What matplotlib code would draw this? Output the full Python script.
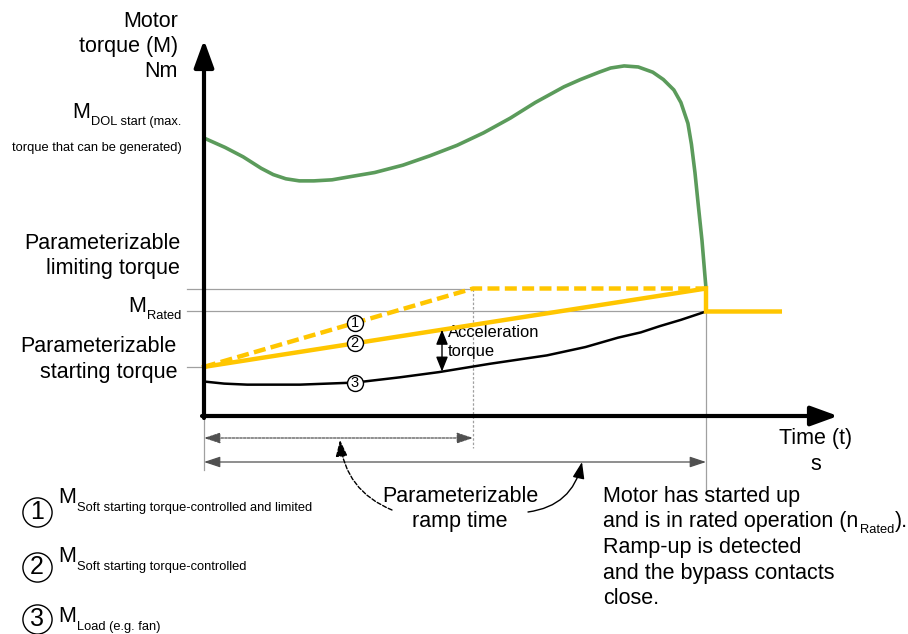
import numpy as np
import matplotlib.pyplot as plt

plt.rcParams['font.family'] = ['Liberation Sans', 'DejaVu Sans']

# time is normalised to the end of the ramp (bypass closes at t = 1),
# torque is in % of rated torque
T_LIMIT = 0.536      # limited ramp reaches the limiting torque
T_AFTER = 1.147      # end of the rated-operation line
M_START = 47         # parameterizable starting torque
M_LIMIT = 122        # parameterizable limiting torque
M_RATED = 100

# direct-on-line torque curve (green)
dol_t = [0.0, 0.042, 0.078, 0.114, 0.138, 0.163, 0.19, 0.219, 0.255,
         0.291, 0.34, 0.396, 0.45, 0.504, 0.557, 0.610, 0.66, 0.717,
         0.75, 0.787, 0.81, 0.837, 0.865, 0.894, 0.915, 0.936, 0.95,
         0.964, 0.971, 0.978, 0.985, 0.992, 0.996, 1.0]
dol_m = [266, 257, 248, 237, 231, 227, 225, 225, 226,
         229, 233, 240, 249, 259, 271, 285, 300, 315,
         322, 329, 333, 335, 334, 329, 322, 312, 300,
         280, 260, 233, 200, 168, 145, 122]

# load torque (fan)
load_t = [0.0, 0.04, 0.086, 0.191, 0.301, 0.39, 0.468, 0.570, 0.683,
          0.76, 0.825, 0.87, 0.908, 0.95, 1.0]
load_m = [33, 31, 30, 30, 32, 37, 42, 50, 58, 66, 75, 80, 86, 92, 100]

# soft starter, torque-controlled and limited (dashed)
lim_t = [0.0, T_LIMIT, 1.0]
lim_m = [M_START, M_LIMIT, M_LIMIT]

# soft starter, torque-controlled, then bypass
ramp_t = [0.0, 1.0, 1.0, T_AFTER]
ramp_m = [M_START, M_LIMIT, M_RATED, M_RATED]

T_MARK = 0.30        # where the circled numbers sit on the curves

GREEN = '#5b9b5b'
YELLOW = '#ffc600'
GREY = '#a0a0a0'
DIM = '#505050'

BIG = 15.5
SMALL = 9.3

# pixel layout of the original drawing
X0, XS = 204, 502
Y0, YS = 416, 1.045
W, H = 908, 634


def P(x, y):
    return (x - X0) / XS, (Y0 - y) / YS


fig = plt.figure(figsize=(W / 100, H / 100), dpi=100)
ax = fig.add_axes([0, 0, 1, 1])
ax.set_xlim(P(0, 0)[0], P(W, 0)[0])
ax.set_ylim(P(0, H)[1], P(0, 0)[1])
ax.axis('off')

# helper lines
x_left = P(187, 0)[0]
ax.plot([x_left, T_LIMIT], [M_LIMIT, M_LIMIT], color=GREY, lw=0.9, zorder=1)
ax.plot([x_left, 1.0], [M_RATED, M_RATED], color=GREY, lw=0.9, zorder=1)
ax.plot([x_left, 0], [M_START, M_START], color=GREY, lw=0.9, zorder=1)
ax.plot([T_LIMIT, T_LIMIT], [M_LIMIT, P(0, 448)[1]], color=GREY, lw=0.9,
        ls=(0, (2, 1.5)), zorder=1)
ax.plot([1.0, 1.0], [M_RATED, P(0, 490)[1]], color=GREY, lw=0.9, zorder=1)
ax.plot([0, 0], [P(0, 418)[1], P(0, 470)[1]], color=GREY, lw=0.9, zorder=1)

# curves
ax.plot(dol_t, dol_m, color=GREEN, lw=2.6, solid_capstyle='round',
        solid_joinstyle='round', zorder=3)
ax.plot(load_t, load_m, color='black', lw=1.8, solid_joinstyle='round', zorder=3)
ax.plot(lim_t, lim_m, color=YELLOW, lw=3.2, ls=(0, (2.7, 1.2)), zorder=4)
ax.plot(ramp_t, ramp_m, color=YELLOW, lw=3.2, solid_joinstyle='miter', zorder=4)

# axes with arrows
ax.annotate('', xy=(0, P(0, 40)[1]), xytext=(0, P(0, 418)[1]),
            arrowprops=dict(arrowstyle='-|>,head_length=0.55,head_width=0.2',
                            lw=3, color='black', mutation_scale=30,
                            shrinkA=0, shrinkB=0), zorder=5)
ax.annotate('', xy=(P(838, 0)[0], 0), xytext=(P(202, 0)[0], 0),
            arrowprops=dict(arrowstyle='-|>,head_length=0.55,head_width=0.2',
                            lw=3, color='black', mutation_scale=30,
                            shrinkA=0, shrinkB=0), zorder=5)

# dimension arrows for the ramp time
dim_style = '<|-|>,head_length=0.45,head_width=0.15'
ax.annotate('', xy=(T_LIMIT, P(0, 438)[1]), xytext=(0, P(0, 438)[1]),
            arrowprops=dict(arrowstyle=dim_style, lw=0.9, color=DIM,
                            ls=(0, (2, 1)), mutation_scale=22,
                            shrinkA=0, shrinkB=0))
ax.annotate('', xy=(1.0, P(0, 462)[1]), xytext=(0, P(0, 462)[1]),
            arrowprops=dict(arrowstyle=dim_style, lw=0.9, color=DIM,
                            mutation_scale=22, shrinkA=0, shrinkB=0))

# curved pointers from the ramp time label
ax.annotate('', xy=P(340, 440), xytext=P(392, 510),
            arrowprops=dict(arrowstyle='-|>,head_length=0.5,head_width=0.18',
                            connectionstyle='arc3,rad=-0.3', lw=1.0,
                            ls=(0, (3, 1.5)), color='black', mutation_scale=20,
                            shrinkA=0, shrinkB=0))
ax.annotate('', xy=P(582, 462), xytext=P(528, 512),
            arrowprops=dict(arrowstyle='-|>,head_length=0.5,head_width=0.18',
                            connectionstyle='arc3,rad=0.35', lw=1.0,
                            color='black', mutation_scale=20,
                            shrinkA=0, shrinkB=0))

# acceleration torque arrow
t_acc = P(442, 0)[0]
ax.annotate('', xy=(t_acc, np.interp(t_acc, load_t, load_m)),
            xytext=(t_acc, np.interp(t_acc, [0, 1], [M_START, M_LIMIT])),
            arrowprops=dict(arrowstyle='<|-|>,head_length=0.5,head_width=0.2',
                            lw=1.0, color='black', mutation_scale=18,
                            shrinkA=0, shrinkB=0), zorder=5)
for s, yy in [('Acceleration', 333), ('torque', 352)]:
    ax.text(*P(448, yy), s, fontsize=11.9, ha='left', va='center')


# circled numbers
def circled(x, y, num, size, ms):
    ax.plot(x, y, 'o', ms=ms, mfc='white', mec='black', mew=1.0, zorder=6)
    ax.text(x, y, num, fontsize=size, ha='center', va='center', zorder=7)


circled(T_MARK, np.interp(T_MARK, lim_t, lim_m), '1', 10.5, 11.5)
circled(T_MARK, np.interp(T_MARK, ramp_t[:2], ramp_m[:2]), '2', 10.5, 11.5)
circled(T_MARK, np.interp(T_MARK, load_t, load_m), '3', 10.5, 11.5)


def lines(x, ys, texts, ha, size=BIG):
    for s, yy in zip(texts, ys):
        ax.text(*P(x, yy), s, fontsize=size, ha=ha, va='center')


def with_sub(x, y, main, sub, size=BIG, subsize=SMALL, dy=-6.5, tail=None):
    m = ax.text(*P(x, y), main, fontsize=size, ha='left', va='center')
    s = ax.annotate(sub, xy=(1, 0.5), xycoords=m, xytext=(1, dy),
                    textcoords='offset points', fontsize=subsize,
                    ha='left', va='center')
    if tail:
        ax.annotate(tail, xy=(1, 0.5), xycoords=(s, m), xytext=(0.5, 0),
                    textcoords='offset points', fontsize=size,
                    ha='left', va='center')


# y-axis labels
lines(178, [22, 47, 72], ['Motor', 'torque (M)', 'Nm'], 'right')
with_sub(72, 113, 'M', 'DOL start (max.')
ax.text(*P(182, 148), 'torque that can be generated)', fontsize=SMALL,
        ha='right', va='center')
lines(180, [244, 269], ['Parameterizable', 'limiting torque'], 'right')
with_sub(128, 307, 'M', 'Rated')
lines(177, [347, 373], ['Parameterizable', 'starting torque'], 'right')

# x-axis label
lines(816, [439, 465], ['Time (t)', 's'], 'center')

# ramp time and bypass notes
lines(460, [497, 522], ['Parameterizable', 'ramp time'], 'center')
lines(603, [497], ['Motor has started up'], 'left')
with_sub(603, 522, 'and is in rated operation (n', 'Rated', dy=-5.5, tail=').')
lines(603, [548, 574, 599], ['Ramp-up is detected', 'and the bypass contacts',
                             'close.'], 'left')

# legend
legend_rows = [('1', 'Soft starting torque-controlled and limited', 512, 498),
               ('2', 'Soft starting torque-controlled', 567, 557),
               ('3', 'Load (e.g. fan)', 619, 617)]
for num, sub, yc, ym in legend_rows:
    circled(*P(37, yc), num, 18, 21)
    with_sub(58, ym, 'M', sub, dy=-7)

fig.savefig('out.png', dpi=100)
